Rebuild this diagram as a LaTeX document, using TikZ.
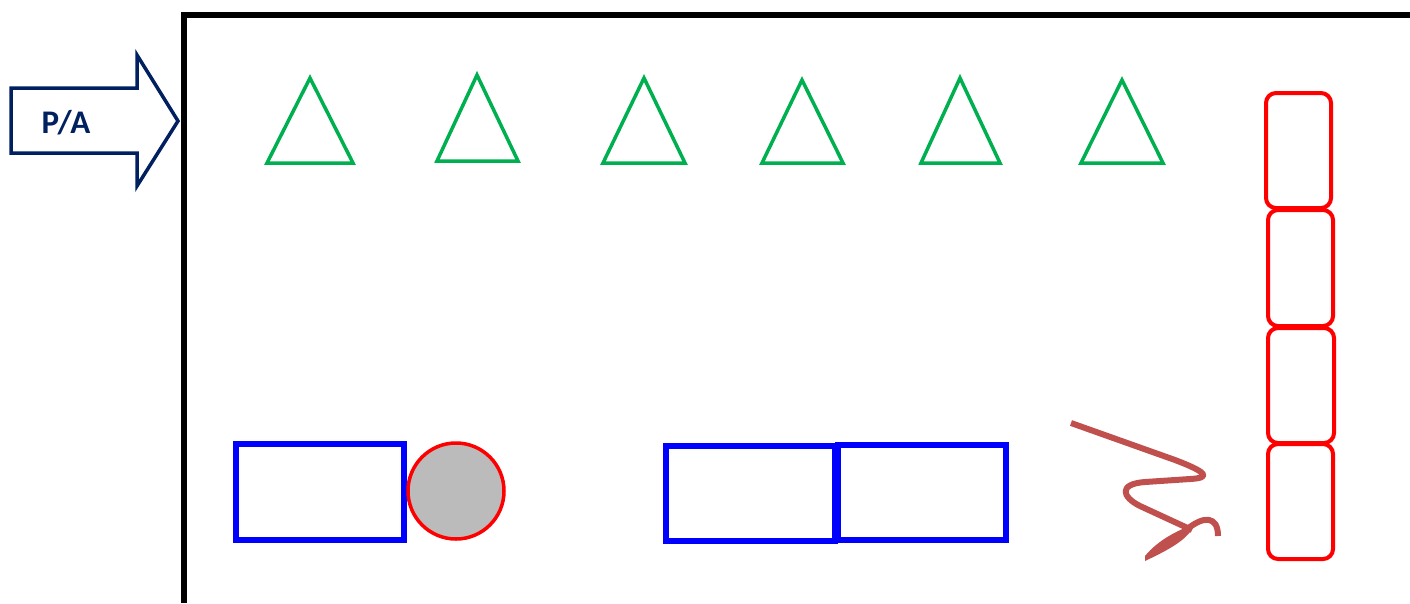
\documentclass[tikz,border=0pt]{standalone}
\usepackage{fontspec}
\setmainfont{Carlito}
\definecolor{navy}{HTML}{002060}
\definecolor{trigreen}{HTML}{00B050}
\definecolor{squig}{HTML}{C0504D}
\definecolor{cgray}{HTML}{BBBBBB}
\begin{document}
\begin{tikzpicture}[x=1pt,y=-1pt,
  frameline/.style={line width=6pt,black},
  arrowshape/.style={line width=3.5pt,navy,line join=miter},
  tri/.style={line width=3.5pt,trigreen,line join=miter},
  redbox/.style={line width=4pt,red,rounded corners=10pt},
  bluebox/.style={line width=6pt,blue},
  ball/.style={line width=3.5pt,red,fill=cgray},
  squigline/.style={line width=6pt,squig,line cap=butt,line join=round}]
\useasboundingbox (0,0) rectangle (1410,603);
% frame
\draw[frameline] (184,603) -- (184,15) -- (1412,15);
% arrow
\draw[arrowshape] (11,88) -- (137,88) -- (137,55) -- (178,121) -- (137,186) -- (137,153) -- (11,153) -- cycle;
\node[navy,font=\fontsize{33}{34}\selectfont\bfseries] (pa) at (66,123) {P/A};
% triangles
\draw[tri] (310,78) -- (353,163) -- (267,163) -- cycle;
\draw[tri] (477,75) -- (518,161) -- (437,161) -- cycle;
\draw[tri] (644,78) -- (685,163) -- (603,163) -- cycle;
\draw[tri] (802,80) -- (843,163) -- (762,163) -- cycle;
\draw[tri] (960,78) -- (1000,163) -- (921,163) -- cycle;
\draw[tri] (1122,80) -- (1163,163) -- (1081,163) -- cycle;
% red boxes
\draw[redbox] (1266,93) rectangle (1331,208);
\draw[redbox] (1268,210) rectangle (1333,326);
\draw[redbox] (1268,328) rectangle (1334,443);
\draw[redbox] (1268,444) rectangle (1333,559);
% blue boxes
\draw[bluebox] (236,444) rectangle (404,540);
\draw[bluebox] (666,446) rectangle (835,541);
\draw[bluebox] (838,445) rectangle (1006,540);
% circle
\draw[ball] (456,491) circle (48);
% squiggle
\draw[squigline] (1071,423) -- (1175,460) .. controls (1212,474) and (1208,478) .. (1190,479)
  -- (1145,482) .. controls (1118,484) and (1122,497) .. (1140,506) -- (1192,530);
\fill[squig] (1145,561) .. controls (1168,550) and (1188,540) .. (1195,524)
  .. controls (1178,530) and (1158,540) .. (1145,556) -- cycle;
\draw[squigline] (1186,530) .. controls (1204,515) and (1218,516) .. (1218,536);
\end{tikzpicture}
\end{document}
